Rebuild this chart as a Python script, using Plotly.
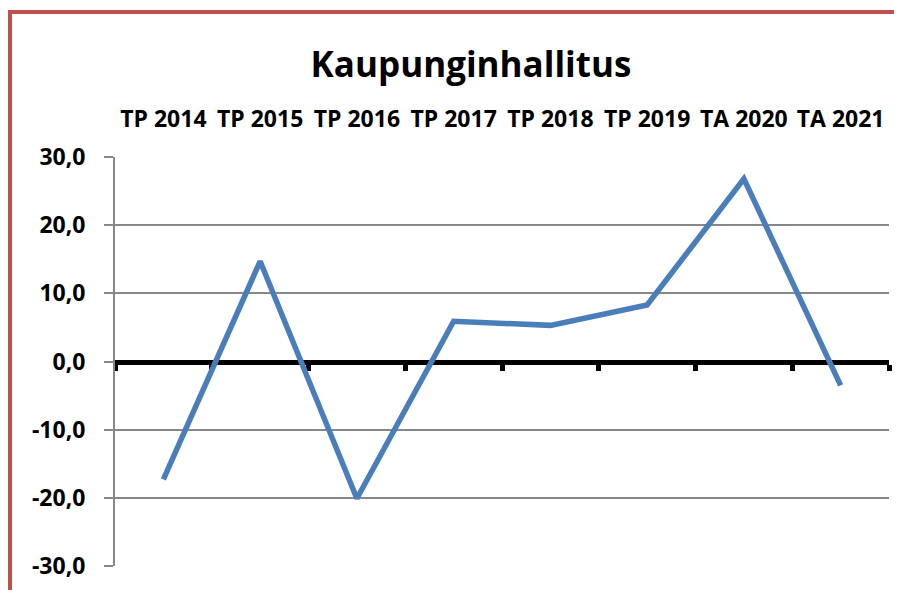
import plotly.graph_objects as go

categories = ["TP 2014", "TP 2015", "TP 2016", "TP 2017", "TP 2018", "TP 2019", "TA 2020", "TA 2021"]
values = [-17.3, 14.7, -20.1, 5.9, 5.3, 8.3, 26.8, -3.5]
y_ticks = [-30, -20, -10, 0, 10, 20, 30]
y_tick_labels = ["-30,0", "-20,0", "-10,0", "0,0", "10,0", "20,0", "30,0"]
title_text = "Kaupunginhallitus"

W, H = 902, 590
OFF = 8  # page body margin offset
# plot area in screen pixels: x 115..889, y 157..566
L = 115 - OFF
T = 157 - OFF
R = W - (889 - OFF)
B = H - (566 - OFF)
pw, ph = W - L - R, H - T - B

def px(x):
    return (x - OFF - L) / pw

def py(y):
    return (H - B - (y - OFF)) / ph

font = "Open Sans, Arial, sans-serif"
n = len(categories)
bounds = [i - 0.5 for i in range(n + 1)]

fig = go.Figure()
fig.add_trace(go.Scatter(
    x=categories, y=values, mode="lines",
    line=dict(color="#4A7EBB", width=5.5),
    hoverinfo="skip", showlegend=False,
))
fig.add_trace(go.Scatter(
    x=list(range(n)), y=values, xaxis="x2", mode="lines",
    line=dict(color="rgba(0,0,0,0)", width=0), opacity=0,
    hoverinfo="skip", showlegend=False,
))

fig.update_layout(
    width=W, height=H,
    margin=dict(l=L, r=R, t=T, b=B, pad=0),
    paper_bgcolor="white", plot_bgcolor="white",
    title=dict(text="<b>" + title_text + "</b>", x=(471 - OFF) / W, xanchor="center",
               y=1 - (65 - OFF) / H, yanchor="middle",
               font=dict(family=font, size=35, color="black")),
    font=dict(family=font, color="black"),
    xaxis=dict(
        type="category", range=[-0.5, n - 0.5], side="top",
        showgrid=False, zeroline=False, showline=False, ticks="",
        tickfont=dict(family=font, size=23, color="black"),
        ticklabelstandoff=24,
        tickprefix="<b>", ticksuffix="</b>",
    ),
    xaxis2=dict(
        overlaying="x", anchor="free", position=0.5, side="bottom",
        range=[-0.5, n - 0.5], tickvals=bounds, showticklabels=False,
        showgrid=False, zeroline=False,
        showline=True, linecolor="black", linewidth=5,
        ticks="outside", ticklen=6, tickwidth=5, tickcolor="black",
        layer="below traces",
    ),
    yaxis=dict(
        range=[-30, 30], tickvals=y_ticks, ticktext=["<b>" + t + "</b>" for t in y_tick_labels],
        showgrid=True, gridcolor="#878787", gridwidth=2,
        zeroline=False, showline=True, linecolor="#878787", linewidth=2,
        ticks="outside", ticklen=9, tickwidth=2, tickcolor="#878787",
        tickfont=dict(family=font, size=23, color="black"),
        ticklabelstandoff=14,
    ),
    shapes=[dict(
        type="path", xref="paper", yref="paper",
        path=f"M {px(10)} {py(H + 20)} L {px(10)} {py(12)} L {px(W + 20)} {py(12)}",
        line=dict(color="#C0504D", width=4), layer="above",
    )],
)

fig.write_html("out.html")
